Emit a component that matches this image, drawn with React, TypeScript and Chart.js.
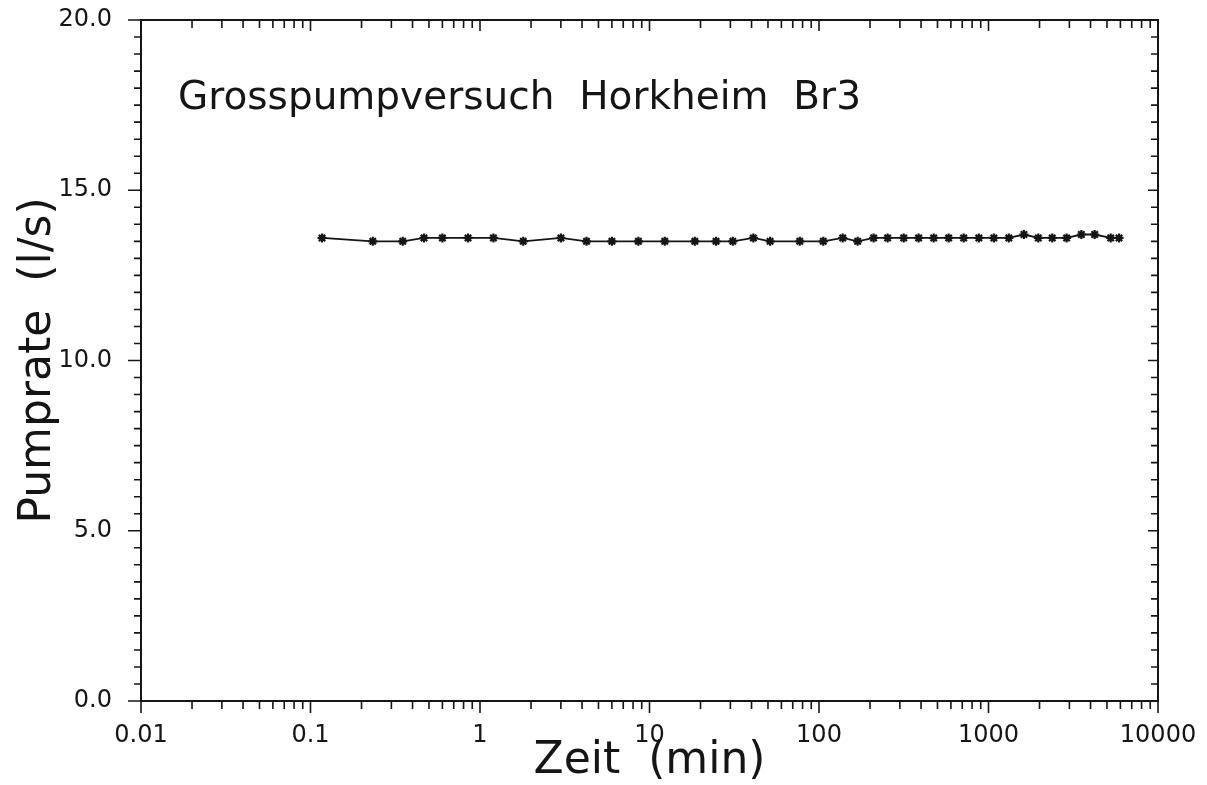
import React, { useEffect, useRef } from "react";
import { Chart, registerables } from "chart.js";

Chart.register(...registerables);

// ---- data ----
const timeMin: number[] = [
  0.117, 0.233, 0.35, 0.467, 0.6, 0.85, 1.2, 1.8, 3, 4.25, 6, 8.6,
  12.3, 18.5, 24.7, 31, 41, 51.5, 77, 106, 138, 169, 210, 254, 316, 387,
  475, 582, 714, 877, 1075, 1318, 1618, 1967, 2378, 2890, 3530, 4230, 5260, 5890,
];
const pumpRate: number[] = [
  13.6, 13.5, 13.5, 13.6, 13.6, 13.6, 13.6, 13.5, 13.6, 13.5, 13.5, 13.5,
  13.5, 13.5, 13.5, 13.5, 13.6, 13.5, 13.5, 13.5, 13.6, 13.5, 13.6, 13.6, 13.6, 13.6,
  13.6, 13.6, 13.6, 13.6, 13.6, 13.6, 13.7, 13.6, 13.6, 13.6, 13.7, 13.7, 13.6, 13.6,
];
const xTickValues: number[] = [0.01, 0.1, 1, 10, 100, 1000, 10000];
const xTickLabels: string[] = ["0.01", "0.1", "1", "10", "100", "1000", "10000"];
const yTickValues: number[] = [0, 5, 10, 15, 20];
const yTickLabels: string[] = ["0.0", "5.0", "10.0", "15.0", "20.0"];
const chartTitle = "Grosspumpversuch  Horkheim  Br3";
const xAxisTitle = "Zeit  (min)";
const yAxisTitle = "Pumprate  (l/s)";

const INK = "#151515";
const FONT = "'DejaVu Sans', 'Liberation Sans', sans-serif";

const clearScalePadding = (scale: any) => {
  scale.paddingTop = 0;
  scale.paddingBottom = 0;
  scale.paddingLeft = 0;
  scale.paddingRight = 0;
  if (scale._margins) {
    scale._margins.top = 0;
    scale._margins.bottom = 0;
    scale._margins.left = 0;
    scale._margins.right = 0;
  }
};

const framePlugin = {
  id: "plotterFrame",
  afterDraw(chart: any) {
    const { ctx, chartArea, scales } = chart;
    const { left, right, top, bottom } = chartArea;
    const xs = scales.x;
    const ys = scales.y;
    ctx.save();
    ctx.strokeStyle = INK;
    ctx.lineWidth = 2;
    ctx.strokeRect(left, top, right - left, bottom - top);
    ctx.lineWidth = 1.6;
    ctx.beginPath();
    for (let e = -2; e <= 4; e++) {
      for (let m = 1; m <= 9; m++) {
        const v = m * Math.pow(10, e);
        if (v > 10000 * 1.0001) break;
        const px = xs.getPixelForValue(v);
        const major = m === 1;
        ctx.moveTo(px, bottom);
        ctx.lineTo(px, bottom + (major ? 12 : 8));
        ctx.moveTo(px, top);
        ctx.lineTo(px, top + (major ? 11 : 8));
      }
    }
    for (let i = 0; i <= 40; i++) {
      const v = i * 0.5;
      const py = ys.getPixelForValue(v);
      const major = i % 10 === 0;
      ctx.moveTo(left, py);
      ctx.lineTo(left - (major ? 13 : 7), py);
      ctx.moveTo(right, py);
      ctx.lineTo(right - (major ? 10 : 7), py);
    }
    ctx.stroke();
    ctx.font = `39px ${FONT}`;
    ctx.fillStyle = INK;
    ctx.textAlign = "left";
    ctx.textBaseline = "alphabetic";
    ctx.fillText(chartTitle, left + 37, top + 89);
    ctx.restore();
  },
};

export default function App() {
  const canvasRef = useRef<HTMLCanvasElement | null>(null);

  useEffect(() => {
    const canvas = canvasRef.current;
    if (!canvas) return;
    const points = timeMin.map((t, i) => ({ x: t, y: pumpRate[i] }));
    const chart = new Chart(canvas, {
      type: "line",
      data: {
        datasets: [
          {
            label: "Pumprate",
            data: points,
            borderColor: INK,
            backgroundColor: INK,
            borderWidth: 1.8,
            tension: 0,
            pointStyle: "star",
            pointRadius: 4.5,
            pointBorderWidth: 2.2,
            pointBackgroundColor: INK,
            pointBorderColor: INK,
          },
        ],
      },
      options: {
        animation: false,
        responsive: false,
        events: [],
        layout: { autoPadding: false, padding: { left: 0, right: 49, top: 20, bottom: 0 } },
        plugins: {
          legend: { display: false },
          tooltip: { enabled: false },
          title: { display: false },
        },
        scales: {
          x: {
            type: "logarithmic",
            min: 0.01,
            max: 10000,
            grid: { display: false, drawTicks: false },
            border: { display: false },
            afterBuildTicks: (scale: any) => {
              scale.ticks = xTickValues.map((v) => ({ value: v }));
            },
            afterFit: (scale: any) => {
              scale.height = 84;
              clearScalePadding(scale);
            },
            ticks: {
              autoSkip: false,
              maxRotation: 0,
              padding: 20,
              color: INK,
              font: { family: FONT, size: 24 },
              callback: (_v: any, i: number) => xTickLabels[i],
            },
            title: {
              display: true,
              text: xAxisTitle,
              color: INK,
              font: { family: FONT, size: 44, lineHeight: 1 },
              padding: { top: 0, bottom: 1 },
            },
          },
          y: {
            type: "linear",
            min: 0,
            max: 20,
            grid: { display: false, drawTicks: false },
            border: { display: false },
            afterBuildTicks: (scale: any) => {
              scale.ticks = yTickValues.map((v) => ({ value: v }));
            },
            afterFit: (scale: any) => {
              scale.width = 141;
              clearScalePadding(scale);
            },
            ticks: {
              padding: 29,
              color: INK,
              font: { family: FONT, size: 24 },
              callback: (_v: any, i: number) => yTickLabels[i],
            },
            title: {
              display: true,
              text: yAxisTitle,
              color: INK,
              font: { family: FONT, size: 44, lineHeight: 1 },
              padding: { top: 17, bottom: 0 },
            },
          },
        },
      },
      plugins: [framePlugin],
    });
    return () => chart.destroy();
  }, []);

  return (
    <div style={{ position: "absolute", left: 0, top: 0, width: 1207, height: 785, background: "#fff" }}>
      <canvas ref={canvasRef} width={1207} height={785} style={{ display: "block", width: 1207, height: 785 }} />
    </div>
  );
}
